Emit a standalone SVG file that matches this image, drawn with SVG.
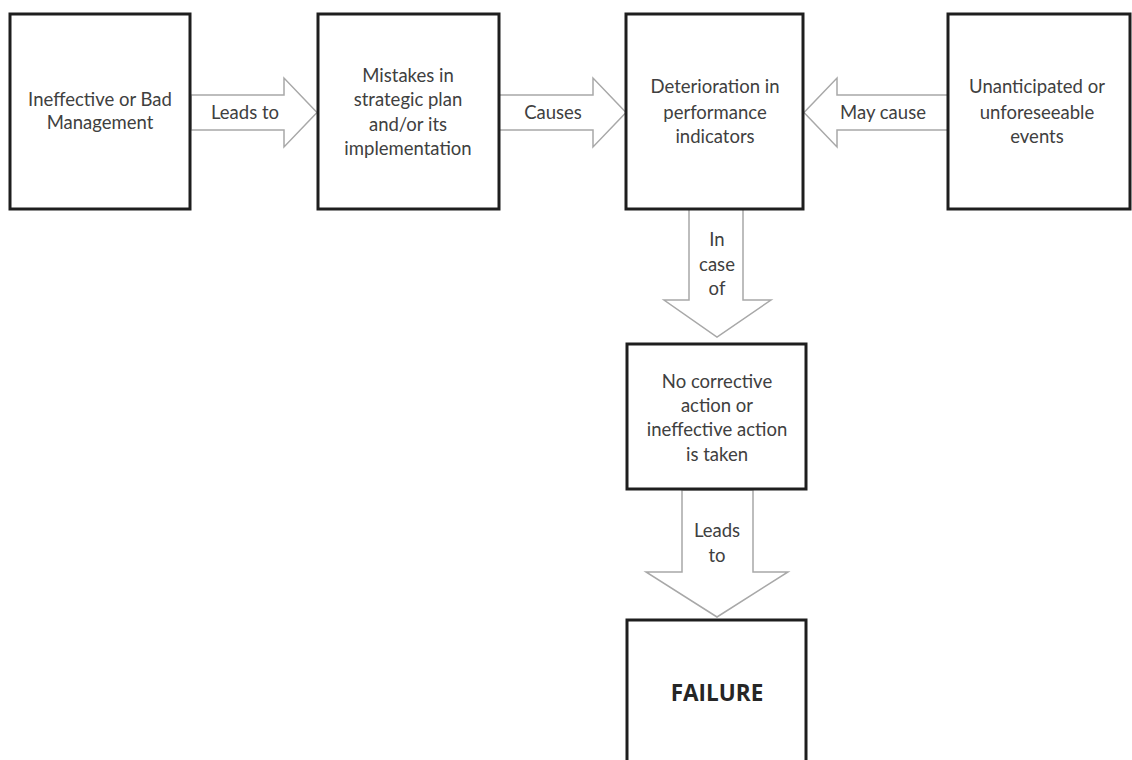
<svg xmlns="http://www.w3.org/2000/svg" width="1132" height="760" viewBox="0 0 1132 760">
<style>
.box{fill:#fff;stroke:#1e1e1e;stroke-width:3}
.arr{fill:#fff;stroke:#a8a8a8;stroke-width:1.5;stroke-linejoin:miter}
.t{font-family:Lato,"Open Sans","Liberation Sans",sans-serif;font-size:18.5px;fill:#404040;text-anchor:middle}
.b{font-family:"Open Sans","Liberation Sans",sans-serif;font-size:22.5px;font-weight:bold;fill:#262626;text-anchor:middle}
</style>
<rect width="1132" height="760" fill="#fff"/>
<g id="connectors">
<polygon class="arr" points="191,95 284,95 284,78 317,112.5 284,147 284,130 191,130"/>
<polygon class="arr" points="499,95 593,95 593,78 626,112.5 593,147 593,130 499,130"/>
<polygon class="arr" points="948,95 837,95 837,78 804,112.5 837,147 837,130 948,130"/>
<polygon class="arr" points="689,209 743,209 743,300 771,300 717,337 664,300 689,300"/>
<polygon class="arr" points="682,490 753,490 753,572 788,572 717,617 646,572 682,572"/>
<text class="t" x="245" y="119">Leads to</text>
<text class="t" x="553" y="119">Causes</text>
<text class="t" x="883" y="119">May cause</text>
<text class="t" x="717" y="246">In</text>
<text class="t" x="717" y="271">case</text>
<text class="t" x="717" y="295">of</text>
<text class="t" x="717" y="537">Leads</text>
<text class="t" x="717" y="562">to</text>
</g>
<g id="node1">
<rect class="box" x="10" y="14" width="180" height="195"/>
<text class="t" x="100" y="106">Ineffective or Bad</text>
<text class="t" x="100" y="129">Management</text>
</g>
<g id="node2">
<rect class="box" x="318" y="14" width="181" height="195"/>
<text class="t" x="408" y="82">Mistakes in</text>
<text class="t" x="408" y="106">strategic plan</text>
<text class="t" x="408" y="131">and/or its</text>
<text class="t" x="408" y="155">implementation</text>
</g>
<g id="node3">
<rect class="box" x="626" y="14" width="177" height="195"/>
<text class="t" x="715" y="93">Deterioration in</text>
<text class="t" x="715" y="119">performance</text>
<text class="t" x="715" y="143">indicators</text>
</g>
<g id="node4">
<rect class="box" x="948" y="14" width="182" height="195"/>
<text class="t" x="1037" y="93">Unanticipated or</text>
<text class="t" x="1037" y="119">unforeseeable</text>
<text class="t" x="1037" y="143">events</text>
</g>
<g id="node5">
<rect class="box" x="627" y="344" width="179" height="145"/>
<text class="t" x="717" y="388">No corrective</text>
<text class="t" x="717" y="412">action or</text>
<text class="t" x="717" y="436">ineffective action</text>
<text class="t" x="717" y="461">is taken</text>
</g>
<g id="node6">
<rect class="box" x="627" y="620" width="179" height="170"/>
<text class="b" x="717" y="701">FAILURE</text>
</g>
</svg>
